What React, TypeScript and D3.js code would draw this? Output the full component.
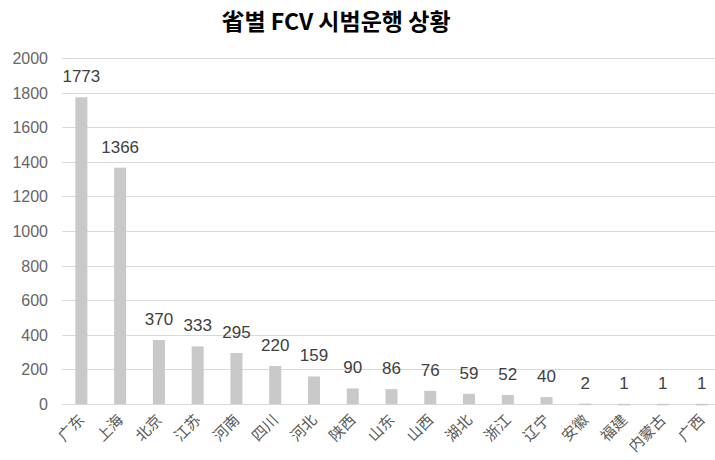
import React, { useEffect, useRef } from 'react';
import * as d3 from 'd3';

const provinces = ['广东', '上海', '北京', '江苏', '河南', '四川', '河北', '陕西', '山东', '山西', '湖北', '浙江', '辽宁', '安徽', '福建', '内蒙古', '广西'];
const vehicles = [1773, 1366, 370, 333, 295, 220, 159, 90, 86, 76, 59, 52, 40, 2, 1, 1, 1];
const yTicks = [0, 200, 400, 600, 800, 1000, 1200, 1400, 1600, 1800, 2000];

const App = () => {
  const ref = useRef<SVGSVGElement | null>(null);

  useEffect(() => {
    if (!ref.current) return;
    const width = 715, height = 460;
    const svg = d3.select(ref.current);
    svg.selectAll('*').remove();

    const x = d3.scaleBand().domain(provinces).range([62, 721]).paddingInner(0.69).paddingOuter(0.345);
    const y = d3.scaleLinear().domain([0, 2000]).range([404, 58]);

    // gridlines
    svg.append('g')
      .selectAll('line')
      .data(yTicks)
      .enter()
      .append('line')
      .attr('x1', 62)
      .attr('x2', width)
      .attr('y1', d => Math.round(y(d)) + 0.5)
      .attr('y2', d => Math.round(y(d)) + 0.5)
      .attr('stroke', '#d9d9d9')
      .attr('stroke-width', 1);

    // y tick labels
    svg.append('g')
      .selectAll('text')
      .data(yTicks)
      .enter()
      .append('text')
      .attr('x', 48)
      .attr('y', d => y(d) + 6)
      .attr('text-anchor', 'end')
      .style('font-family', '"Liberation Sans", Arial, sans-serif')
      .style('font-size', '16px')
      .attr('fill', '#666')
      .text(d => d);

    // bars
    svg.append('g')
      .selectAll('rect')
      .data(vehicles)
      .enter()
      .append('rect')
      .attr('x', (d, i) => x(provinces[i])!)
      .attr('width', x.bandwidth())
      .attr('y', d => y(d))
      .attr('height', d => Math.max(y(0) - y(d), 1.5))
      .attr('fill', '#c9c9c9');

    // value labels
    svg.append('g')
      .selectAll('text')
      .data(vehicles)
      .enter()
      .append('text')
      .attr('x', (d, i) => x(provinces[i])! + x.bandwidth() / 2)
      .attr('y', d => y(d) - 15)
      .attr('text-anchor', 'middle')
      .style('font-family', '"Liberation Sans", Arial, sans-serif')
      .style('font-size', '17px')
      .attr('fill', '#404040')
      .text(d => d);

    // category labels
    svg.append('g')
      .selectAll('text')
      .data(provinces)
      .enter()
      .append('text')
      .attr('transform', d => `translate(${x(d)! + x.bandwidth() / 2 + 4}, ${421}) rotate(-45)`)
      .attr('text-anchor', 'end')
      .style('font-family', '"Noto Sans CJK SC", sans-serif')
      .style('font-size', '15px')
      .attr('fill', '#595959')
      .text(d => d);

    // title
    svg.append('text')
      .attr('x', 336)
      .attr('y', 30)
      .attr('text-anchor', 'middle')
      .style('font-family', '"Noto Sans CJK KR", sans-serif')
      .style('font-size', '23px')
      .style('font-weight', 'bold')
      .attr('fill', '#000')
      .text('省별 FCV 시범운행 상황');

    svg.attr('width', width).attr('height', height);
  }, []);

  return (
    <svg ref={ref} width={715} height={460} style={{ position: 'absolute', left: 0, top: 0, background: '#fff' }} />
  );
};

export default App;
